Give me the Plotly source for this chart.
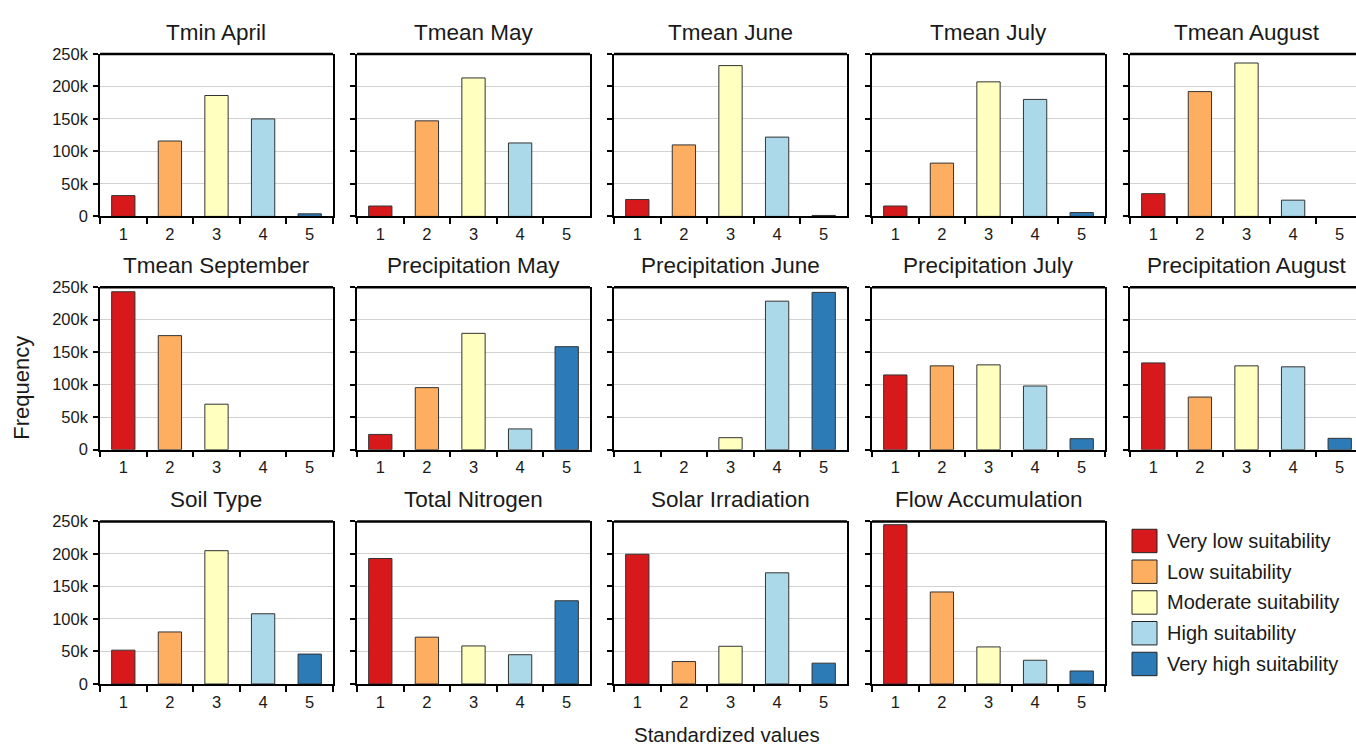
import plotly.graph_objects as go

# ---------------- data ----------------
categories = ["1", "2", "3", "4", "5"]

titles = [
    "Tmin April", "Tmean May", "Tmean June", "Tmean July", "Tmean August",
    "Tmean September", "Precipitation May", "Precipitation June",
    "Precipitation July", "Precipitation August",
    "Soil Type", "Total Nitrogen", "Solar Irradiation", "Flow Accumulation",
]

tmin_april = [32000, 116000, 186000, 150000, 4000]
tmean_may = [16000, 147000, 213000, 113000, 0]
tmean_june = [26000, 110000, 232000, 122000, 1500]
tmean_july = [16000, 82000, 207000, 180000, 6000]
tmean_august = [35000, 192000, 236000, 25000, 0]
tmean_september = [243000, 175500, 70000, 0, 0]
precip_may = [23500, 95500, 179000, 32000, 158500]
precip_june = [0, 0, 18500, 228500, 242000]
precip_july = [115000, 129000, 130500, 98000, 17000]
precip_august = [133500, 81000, 129000, 127500, 17500]
soil_type = [52000, 80000, 205000, 108000, 46000]
total_nitrogen = [193000, 72000, 58500, 45000, 128000]
solar_irradiation = [199500, 34500, 58000, 171000, 32000]
flow_accumulation = [245000, 141500, 57000, 36500, 20000]

series = [
    tmin_april, tmean_may, tmean_june, tmean_july, tmean_august,
    tmean_september, precip_may, precip_june, precip_july, precip_august,
    soil_type, total_nitrogen, solar_irradiation, flow_accumulation,
]

legend_labels = ["Very low suitability", "Low suitability", "Moderate suitability",
                 "High suitability", "Very high suitability"]
colors = ["#d7191c", "#fdae61", "#ffffbf", "#abd9e9", "#2c7bb6"]

y_tickvals = [0, 50000, 100000, 150000, 200000, 250000]
y_ticktext = ["0", "50k", "100k", "150k", "200k", "250k"]

# ---------------- layout geometry ----------------
W, H = 1356, 753


def px(X):
    return X / W


def py(Y):
    return 1 - Y / H


col_left = [100, 357, 614, 872, 1130]
panel_w = 233.0
row_top = [46, 285, 525]
panel_h = 166.5
FONT = "Liberation Sans, Arial, sans-serif"
TXT = "#1a1a1a"

fig = go.Figure()
layout = dict(
    width=W, height=H, autosize=False,
    margin=dict(l=0, r=0, t=0, b=0),
    paper_bgcolor="white", plot_bgcolor="white",
    showlegend=False,
    font=dict(family=FONT, color=TXT),
)
annotations = []
shapes = []

for i, (title, vals) in enumerate(zip(titles, series)):
    r, c = divmod(i, 5)
    n = i + 1
    sfx = "" if n == 1 else str(n)
    xa, ya = "x" + sfx, "y" + sfx
    x0 = col_left[c]
    x1 = min(x0 + panel_w, W)
    y0 = row_top[r]
    y1 = y0 + panel_h
    full = (x1 - x0) >= panel_w - 0.5

    fig.add_trace(go.Bar(
        x=categories, y=[v if v else None for v in vals], width=0.5,
        marker=dict(color=colors, line=dict(color="#333333", width=1)),
        xaxis=xa, yaxis=ya, hoverinfo="skip",
    ))

    layout["xaxis" + sfx] = dict(
        domain=[px(x0), min(px(x1), 1.0)], anchor=ya,
        type="category", categoryorder="array", categoryarray=categories,
        range=[-0.5, -0.5 + (x1 - x0) / (panel_w / 5)],
        tickson="boundaries", ticks="outside", ticklen=6, tickwidth=1.5,
        tickcolor="black", showline=True, linecolor="black", linewidth=1.5,
        showgrid=False, zeroline=False,
        tickfont=dict(size=16.5, color=TXT, family=FONT),
        ticklabelstandoff=2,
    )
    layout["yaxis" + sfx] = dict(
        domain=[py(y1), py(y0)], anchor=xa,
        range=[0, 250000], tickvals=y_tickvals, ticktext=y_ticktext,
        showticklabels=(c == 0), ticks="outside", ticklen=5, tickwidth=1.5,
        tickcolor="black", showline=True, linecolor="black", linewidth=1.5,
        mirror=full, showgrid=True, gridcolor="#d2d2d2", gridwidth=1,
        zeroline=False,
        tickfont=dict(size=16.5, color=TXT, family=FONT),
        ticklabelstandoff=2,
    )
    # thick top border
    shapes.append(dict(type="line", xref=xa + " domain", yref=ya + " domain",
                       x0=0, x1=1, y0=1, y1=1,
                       line=dict(color="black", width=2.5)))
    # panel title
    annotations.append(dict(
        text=title, xref="paper", yref="paper",
        x=px(x0 + panel_w / 2), y=py(y0 - 7.5),
        xanchor="center", yanchor="bottom", showarrow=False,
        font=dict(size=22.5, color=TXT, family=FONT),
    ))

# axis titles
annotations.append(dict(
    text="Frequency", xref="paper", yref="paper",
    x=px(22), y=py(388), xanchor="center", yanchor="middle",
    textangle=-90, showarrow=False,
    font=dict(size=22, color=TXT, family=FONT),
))
annotations.append(dict(
    text="Standardized values", xref="paper", yref="paper",
    x=px(727), y=py(743), xanchor="center", yanchor="middle",
    showarrow=False, font=dict(size=20.5, color=TXT, family=FONT),
))

# legend (drawn manually for large swatches)
for k, (lab, col) in enumerate(zip(legend_labels, colors)):
    top = 533 + k * 31.5
    shapes.append(dict(type="rect", xref="paper", yref="paper",
                       x0=px(1132), x1=px(1157),
                       y0=py(top + 24), y1=py(top),
                       fillcolor=col, line=dict(color="#222222", width=1)))
    annotations.append(dict(
        text=lab, xref="paper", yref="paper",
        x=px(1165), y=py(top + 12), xanchor="left", yanchor="middle",
        showarrow=False, font=dict(size=20, color=TXT, family=FONT),
    ))

layout["annotations"] = annotations
layout["shapes"] = shapes
fig.update_layout(**layout)

fig.write_html(
    "out.html",
    config={"displayModeBar": False},
    post_script="document.body.style.margin='0px';"
                "document.documentElement.style.overflow='hidden';"
                "document.body.style.overflow='hidden';",
)
